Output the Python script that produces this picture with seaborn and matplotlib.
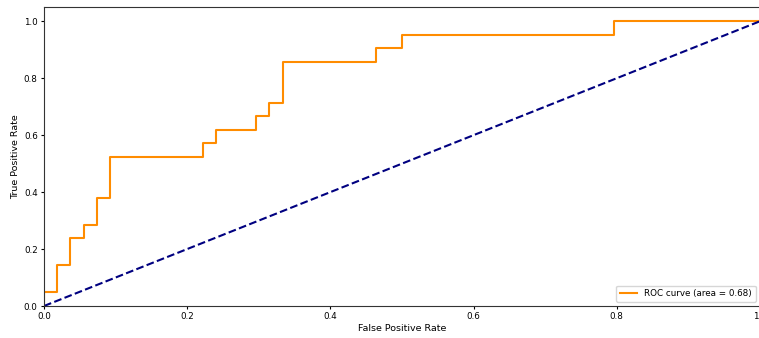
import pandas as pd
import matplotlib
matplotlib.use("Agg")
import matplotlib.pyplot as plt
import seaborn as sns

# ROC curve points
fpr = [0.0, 0.0, 0.0185, 0.0185, 0.0370, 0.0370, 0.0556, 0.0556, 0.0741, 0.0741,
       0.0926, 0.0926, 0.2222, 0.2222, 0.2407, 0.2407, 0.2963, 0.2963, 0.3148, 0.3148,
       0.3333, 0.3333, 0.4630, 0.4630, 0.5000, 0.5000, 0.7963, 0.7963, 1.0]
tpr = [0.0, 0.0476, 0.0476, 0.1429, 0.1429, 0.2381, 0.2381, 0.2857, 0.2857, 0.3810,
       0.3810, 0.5238, 0.5238, 0.5714, 0.5714, 0.6190, 0.6190, 0.6667, 0.6667, 0.7143,
       0.7143, 0.8571, 0.8571, 0.9048, 0.9048, 0.9524, 0.9524, 1.0, 1.0]
roc_auc = 0.68

chance_x = [0, 1]
chance_y = [0, 1]

df = pd.DataFrame({"fpr": fpr, "tpr": tpr})

fig = plt.figure(figsize=(7.59, 3.38), dpi=100)
ax = fig.add_axes([44 / 759, 32 / 338, 716 / 759, 299 / 338])

sns.lineplot(data=df, x="fpr", y="tpr", sort=False, estimator=None,
             color="darkorange", lw=1.5, label="ROC curve (area = %0.2f)" % roc_auc, ax=ax)
sns.lineplot(x=chance_x, y=chance_y, color="navy", lw=1.5, linestyle="--", ax=ax)

ax.set_xlim(0.0, 1.0)
ax.set_ylim(0.0, 1.05)
ax.set_xlabel("False Positive Rate", fontsize=6.8, labelpad=2)
ax.set_ylabel("True Positive Rate", fontsize=6.8, labelpad=3)
ax.tick_params(labelsize=6.3, length=2, pad=2.5)
for s in ax.spines.values():
    s.set_color("#333333")
ax.legend(loc="lower right", fontsize=6.3)

fig.savefig("out.png", dpi=100)
